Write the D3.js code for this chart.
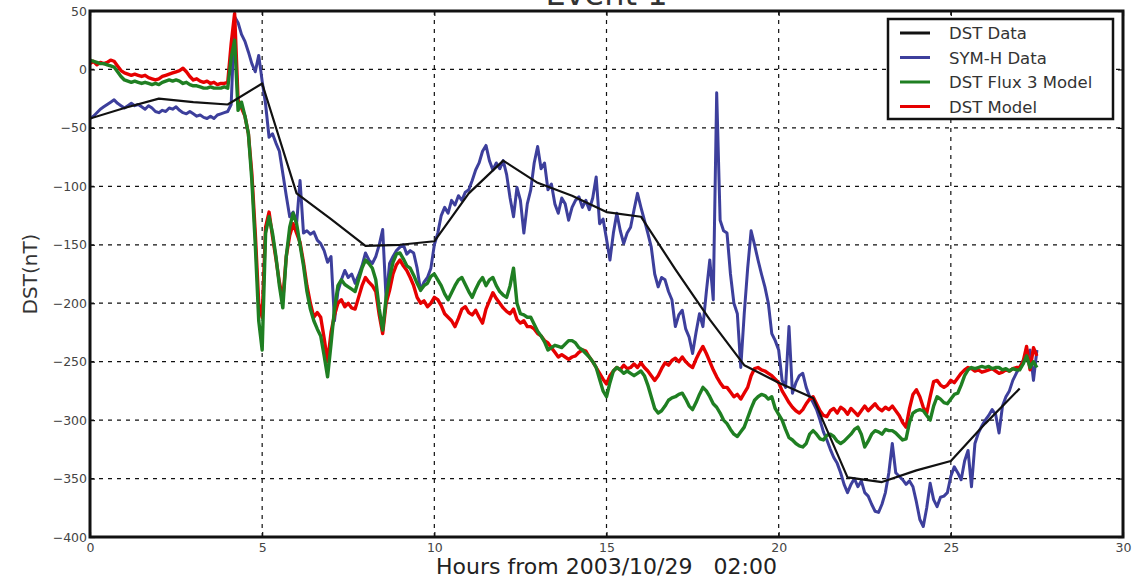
<!DOCTYPE html>
<html>
<head>
<meta charset="utf-8">
<script src="https://cdn.jsdelivr.net/npm/d3@7"></script>
<style>
  html, body { margin: 0; padding: 0; background: #fff; }
  svg { display: block; font-family: "DejaVu Sans", sans-serif; }
</style>
</head>
<body>
<svg id="chart" width="1135" height="580"></svg>
<script>
// Sampling interval of the minute-resolution series (hours)
const sampleStep = 0.1;

// Hourly DST index, hours 0..27
const dstData = [-42, -33, -25, -28, -30, -12, -106, -128, -151, -150, -147, -106, -78, -97,
  -108, -122, -126, -171, -214, -253, -268, -281, -349, -353, -343, -335, -303, -273];

// SYM-H, every 0.1 h from hour 0
const symhData = [
  -42,-40,-37,-34,-32,-30,-28,-26,-29,-31,
  -33,-31,-29,-31,-30,-32,-34,-31,-33,-36,
  -37,-35,-36,-33,-34,-32,-35,-37,-38,-36,
  -38,-40,-39,-41,-42,-40,-42,-39,-38,-37,
  -36,-30,45,40,30,24,15,5,-2,12,
  -10,-30,-58,-55,-63,-70,-89,-108,-126,-122,
  -132,-95,-140,-138,-141,-139,-146,-149,-155,-165,
  -160,-215,-190,-180,-172,-178,-175,-183,-176,-168,
  -157,-163,-166,-160,-150,-137,-197,-166,-160,-155,
  -152,-150,-158,-155,-157,-170,-189,-182,-178,-170,
  -150,-140,-125,-118,-123,-112,-116,-108,-112,-105,
  -103,-95,-86,-80,-70,-65,-78,-86,-80,-85,
  -78,-90,-110,-126,-101,-112,-140,-115,-103,-80,
  -66,-85,-80,-103,-98,-115,-123,-110,-115,-129,
  -118,-112,-109,-118,-112,-120,-110,-92,-132,-128,
  -145,-163,-140,-123,-138,-149,-140,-135,-120,-106,
  -118,-129,-140,-152,-175,-186,-178,-180,-190,-197,
  -220,-210,-206,-222,-229,-243,-225,-209,-220,-190,
  -163,-197,-20,-129,-138,-140,-175,-200,-209,-255,
  -209,-170,-138,-150,-163,-175,-186,-200,-226,-232,
  -240,-266,-272,-220,-277,-268,-262,-260,-272,-280,
  -285,-291,-300,-310,-317,-325,-332,-337,-345,-355,
  -362,-355,-350,-357,-352,-362,-365,-372,-378,-379,
  -372,-362,-345,-320,-345,-348,-351,-355,-352,-357,
  -370,-385,-391,-375,-354,-368,-374,-366,-365,-362,
  -348,-340,-345,-351,-335,-326,-357,-320,-311,-305,
  -300,-296,-291,-295,-311,-288,-280,-275,-266,-260,
  -255,-249,-245,-240,-266,-240
];

// DST Flux 3 model output, every 0.1 h
const flux3Model = [
  8,7,6,5,5,4,3,2,-2,-6,
  -9,-10,-11,-10,-11,-12,-11,-12,-13,-12,
  -13,-11,-10,-9,-10,-9,-10,-12,-11,-13,
  -14,-14,-15,-16,-16,-15,-16,-16,-16,-15,
  -16,10,25,-35,-28,-40,-55,-95,-150,-215,
  -240,-140,-126,-140,-160,-185,-204,-160,-135,-123,
  -132,-150,-168,-190,-205,-215,-222,-228,-245,-263,
  -235,-205,-185,-180,-184,-186,-188,-190,-180,-170,
  -163,-166,-170,-180,-205,-223,-195,-178,-165,-158,
  -157,-162,-168,-170,-176,-183,-189,-185,-183,-177,
  -175,-180,-185,-192,-197,-191,-185,-180,-178,-184,
  -190,-195,-188,-182,-178,-185,-180,-178,-185,-190,
  -193,-195,-185,-170,-200,-209,-210,-212,-212,-218,
  -224,-228,-233,-240,-238,-236,-237,-238,-235,-232,
  -232,-234,-238,-240,-243,-246,-250,-255,-265,-275,
  -280,-268,-258,-255,-257,-260,-258,-260,-262,-260,
  -258,-262,-270,-280,-290,-294,-292,-288,-283,-281,
  -280,-278,-277,-282,-288,-291,-285,-278,-272,-275,
  -280,-286,-289,-294,-300,-303,-308,-312,-314,-310,
  -306,-298,-290,-283,-280,-278,-279,-282,-280,-290,
  -295,-300,-308,-315,-317,-320,-322,-323,-320,-312,
  -309,-312,-316,-317,-313,-312,-314,-318,-320,-318,
  -315,-312,-308,-306,-312,-323,-318,-312,-309,-310,
  -312,-308,-309,-309,-311,-314,-317,-316,-302,-294,
  -292,-291,-292,-296,-300,-288,-280,-282,-285,-286,
  -282,-278,-277,-270,-262,-257,-255,-256,-255,-254,
  -255,-254,-256,-255,-255,-257,-256,-258,-256,-257,
  -257,-252,-245,-255,-250,-255
];

// DST model output, every 0.1 h
const dstModel = [
  5,7,4,6,5,6,8,7,3,-1,
  -3,-4,-5,-4,-5,-6,-5,-7,-8,-9,
  -8,-6,-5,-4,-3,-2,-1,1,-2,-6,
  -9,-8,-10,-11,-10,-12,-11,-13,-12,-12,
  -11,22,48,-26,-33,-40,-55,-89,-140,-200,
  -212,-135,-122,-143,-162,-182,-197,-160,-142,-132,
  -140,-148,-165,-185,-200,-212,-208,-212,-230,-250,
  -225,-210,-200,-197,-203,-200,-204,-205,-195,-185,
  -178,-182,-185,-190,-210,-226,-200,-189,-175,-167,
  -163,-168,-172,-178,-185,-195,-200,-198,-203,-200,
  -195,-197,-202,-209,-212,-215,-220,-213,-205,-203,
  -208,-210,-206,-212,-217,-205,-198,-191,-196,-200,
  -204,-207,-209,-205,-214,-217,-215,-220,-220,-222,
  -226,-228,-232,-234,-238,-242,-246,-244,-246,-248,
  -246,-245,-242,-240,-241,-246,-250,-255,-260,-265,
  -269,-262,-258,-255,-257,-253,-256,-255,-252,-255,
  -251,-255,-258,-262,-266,-262,-256,-251,-253,-249,
  -247,-250,-246,-250,-253,-255,-248,-242,-237,-243,
  -250,-257,-263,-268,-272,-272,-276,-280,-278,-282,
  -277,-272,-262,-256,-255,-257,-258,-260,-262,-265,
  -268,-275,-280,-285,-289,-292,-294,-291,-286,-282,
  -280,-286,-292,-296,-297,-292,-290,-294,-289,-291,
  -295,-290,-293,-296,-292,-288,-292,-289,-286,-290,
  -292,-289,-291,-288,-292,-296,-302,-306,-290,-278,
  -274,-280,-289,-294,-280,-267,-266,-270,-272,-270,
  -266,-268,-264,-260,-257,-255,-256,-258,-257,-259,
  -258,-257,-256,-258,-260,-259,-257,-258,-256,-255,
  -255,-250,-237,-257,-238,-245
];

const xTicks = [0, 5, 10, 15, 20, 25, 30];
const yTicks = [50, 0, -50, -100, -150, -200, -250, -300, -350, -400];

const seriesNames = ["DST Data", "SYM-H Data", "DST Flux 3 Model", "DST Model"];
const seriesColors = ["#111111", "#3d3f9c", "#1f7f22", "#e60000"];

const svg = d3.select("#chart");
const plotLeft = 90, plotRight = 1123, plotTop = 11, plotBottom = 537;

const x = d3.scaleLinear().domain([0, 30]).range([plotLeft, plotRight]);
const y = d3.scaleLinear().domain([-400, 50]).range([plotBottom, plotTop]);

const fmt = d => d < 0 ? "\u2212" + Math.abs(d) : String(d);

// Dashed grid
const grid = svg.append("g").attr("stroke", "#111").attr("stroke-width", 1.2)
  .attr("stroke-dasharray", "4,5");
grid.selectAll("line.v").data(xTicks.slice(1, -1)).join("line").attr("class", "v")
  .attr("x1", d => x(d)).attr("x2", d => x(d)).attr("y1", plotTop).attr("y2", plotBottom);
grid.selectAll("line.h").data(yTicks.slice(1, -1)).join("line").attr("class", "h")
  .attr("y1", d => y(d)).attr("y2", d => y(d)).attr("x1", plotLeft).attr("x2", plotRight);

// Series lines
svg.append("clipPath").attr("id", "clip").append("rect")
  .attr("x", plotLeft).attr("y", plotTop).attr("width", plotRight - plotLeft).attr("height", plotBottom - plotTop);
const plot = svg.append("g").attr("clip-path", "url(#clip)");

const sampled = arr => arr.map((v, i) => [i * sampleStep, v]);
const hourly = arr => arr.map((v, i) => [i, v]);
const line = d3.line().x(d => x(d[0])).y(d => y(d[1]));

const layers = [
  { data: sampled(symhData), color: seriesColors[1], w: 3 },
  { data: sampled(dstModel), color: seriesColors[3], w: 3.4 },
  { data: sampled(flux3Model), color: seriesColors[2], w: 3.4 },
  { data: hourly(dstData), color: seriesColors[0], w: 2.2 }
];
layers.forEach(l => {
  plot.append("path").datum(l.data)
    .attr("fill", "none").attr("stroke", l.color).attr("stroke-width", l.w)
    .attr("stroke-linejoin", "round").attr("d", line);
});

// Axes with inward ticks
const tickStyle = g => {
  g.select(".domain").remove();
  g.selectAll(".tick line").attr("stroke", "#111").attr("stroke-width", 1.2);
  g.selectAll(".tick text").attr("fill", "#444").attr("font-size", 12.5)
    .attr("font-family", "DejaVu Sans, sans-serif");
};
svg.append("g").attr("transform", `translate(0,${plotBottom})`)
  .call(d3.axisBottom(x).tickValues(xTicks).tickFormat(fmt).tickSizeInner(-5).tickSizeOuter(0).tickPadding(6))
  .call(tickStyle);
svg.append("g").attr("transform", `translate(0,${plotTop})`)
  .call(d3.axisTop(x).tickValues(xTicks).tickFormat("").tickSizeInner(-5).tickSizeOuter(0))
  .call(tickStyle);
svg.append("g").attr("transform", `translate(${plotLeft},0)`)
  .call(d3.axisLeft(y).tickValues(yTicks).tickFormat(fmt).tickSizeInner(-5).tickSizeOuter(0).tickPadding(3))
  .call(tickStyle);
svg.append("g").attr("transform", `translate(${plotRight},0)`)
  .call(d3.axisRight(y).tickValues(yTicks).tickFormat("").tickSizeInner(-5).tickSizeOuter(0))
  .call(tickStyle);

// Frame
svg.append("rect").attr("x", plotLeft).attr("y", plotTop)
  .attr("width", plotRight - plotLeft).attr("height", plotBottom - plotTop)
  .attr("fill", "none").attr("stroke", "#111").attr("stroke-width", 3);

// Title and axis labels
svg.append("text").attr("x", (plotLeft + plotRight) / 2).attr("y", 5).attr("text-anchor", "middle")
  .attr("font-size", 32).attr("fill", "#333").text("Event 1");
svg.append("text").attr("x", (plotLeft + plotRight) / 2).attr("y", 574).attr("text-anchor", "middle")
  .attr("font-size", 22).attr("fill", "#222").style("white-space", "pre")
  .text("Hours from 2003/10/29   02:00");
svg.append("text").attr("transform", `translate(37,${(plotTop + plotBottom) / 2}) rotate(-90)`)
  .attr("text-anchor", "middle").attr("font-size", 20).attr("fill", "#333").text("DST(nT)");

// Legend
const lg = svg.append("g").attr("transform", "translate(888,19)");
lg.append("rect").attr("width", 225).attr("height", 100).attr("fill", "#fff")
  .attr("stroke", "#111").attr("stroke-width", 2.5);
seriesNames.forEach((name, i) => {
  const yy = 14 + i * 24.5;
  lg.append("line").attr("x1", 12).attr("x2", 42).attr("y1", yy).attr("y2", yy)
    .attr("stroke", seriesColors[i]).attr("stroke-width", 3);
  lg.append("text").attr("x", 61).attr("y", yy + 6).attr("font-size", 16.5).attr("fill", "#333").text(name);
});
</script>
</body>
</html>
